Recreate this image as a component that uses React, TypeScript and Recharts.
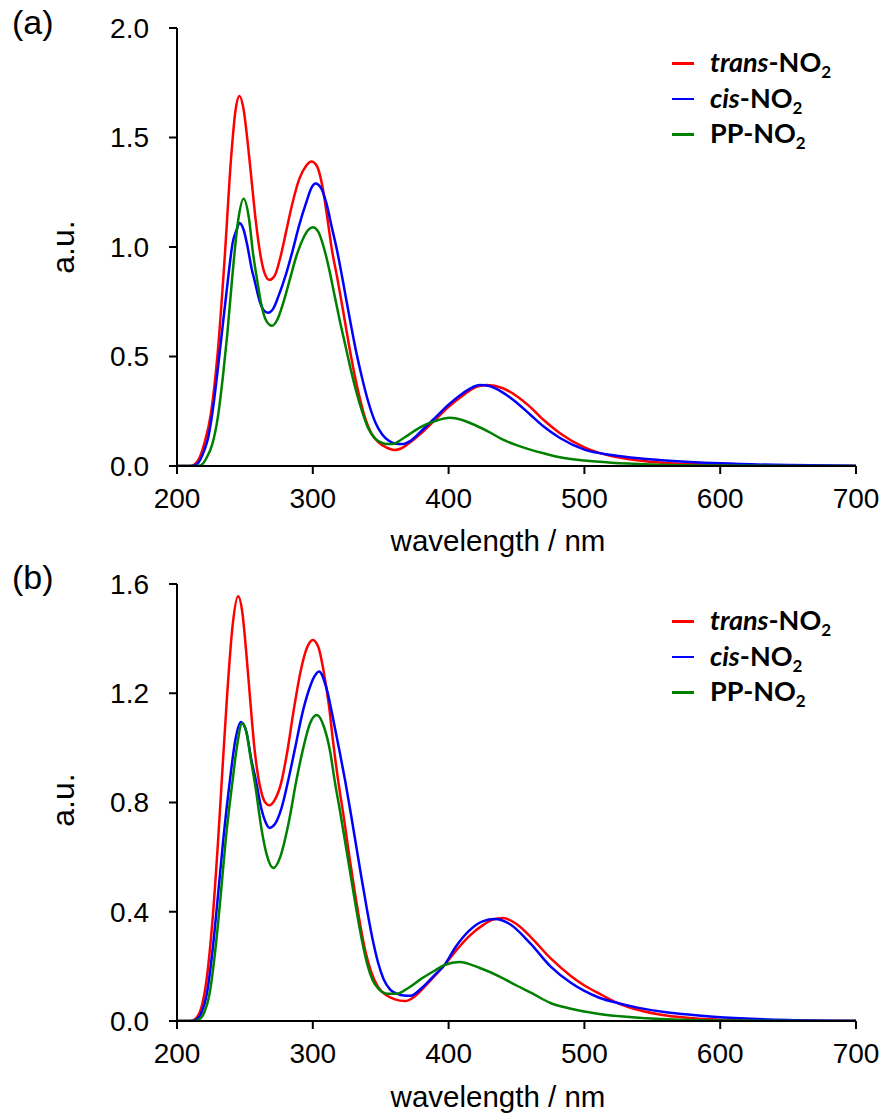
import React from 'react';
import { LineChart, Line, XAxis, YAxis } from 'recharts';

// ---------- data: panel (a) ----------
const transA_x = [200,210,215,220,225,230,235,240,243,246,249,252,255,258,261,264,268,272,276,280,285,290,295,299,303,307,311,314,318,322,327,331,335,339,343,348,354,360,365,370,380,390,400,410,420,428,440,450,460,470,482,500,520,540,560,600,650,700];
const transA_y = [0,0,0.02,0.1,0.24,0.52,0.94,1.42,1.62,1.69,1.63,1.48,1.3,1.12,0.98,0.89,0.85,0.87,0.95,1.06,1.2,1.31,1.37,1.39,1.37,1.28,1.12,0.99,0.86,0.72,0.54,0.41,0.3,0.21,0.15,0.11,0.085,0.073,0.08,0.1,0.15,0.21,0.27,0.32,0.36,0.37,0.355,0.32,0.27,0.21,0.15,0.085,0.045,0.025,0.014,0.005,0.001,0];

const cisA_x = [200,210,215,220,223,226,230,234,237.5,241,244,246,249,252,255,257,261,264,267,271,275,280,285,290,295,299,302,306,310,314,318,322,327,332,336,341,346,351,356,361,366,372,380,390,400,410,423,430,440,450,460,470,482,500,520,540,560,600,650,700];
const cisA_y = [0,0,0.01,0.07,0.13,0.24,0.44,0.66,0.85,1.02,1.08,1.11,1.08,1.0,0.9,0.85,0.75,0.71,0.7,0.72,0.78,0.87,0.98,1.1,1.2,1.27,1.29,1.27,1.2,1.09,0.98,0.85,0.68,0.52,0.41,0.29,0.2,0.145,0.115,0.102,0.1,0.115,0.16,0.22,0.28,0.33,0.37,0.365,0.335,0.29,0.235,0.18,0.128,0.075,0.05,0.035,0.025,0.012,0.004,0.001];

const ppA_x = [200,215,218,222,226,230,234,237,240.5,245,249,253,256,259,262,266,270,274,278,283,288,293,297,300,304,308,312,316,320,324,328,332,336,341,346,351,355,359,365,370,380,390,401,410,420,430,440,450,460,470,482,500,520,550,600,700];
const ppA_y = [0,0,0.005,0.04,0.1,0.22,0.42,0.6,0.85,1.12,1.22,1.13,0.97,0.85,0.74,0.66,0.64,0.67,0.74,0.85,0.96,1.04,1.08,1.09,1.07,1.0,0.9,0.78,0.66,0.55,0.44,0.34,0.255,0.17,0.125,0.105,0.1,0.1,0.12,0.14,0.18,0.205,0.22,0.21,0.185,0.155,0.12,0.095,0.075,0.058,0.04,0.025,0.015,0.007,0.002,0];

// ---------- data: panel (b) ----------
const transB_x = [200,210,214,218,222,226,230,233,237,241,245,248,251,254,257,259,262,265,268,272,276.6,281,286,291,296,300,304,308,312,315,318.6,323,327,331,335,339,343,348,354,360,368,375,385,397,405,415,425,432,440,450,460,475,490,500,511,525,540,560,580,600,650,700];
const transB_y = [0,0,0.01,0.05,0.16,0.36,0.64,0.883,1.2,1.45,1.555,1.5,1.35,1.17,1.0,0.92,0.84,0.8,0.79,0.81,0.87,0.98,1.14,1.28,1.37,1.395,1.37,1.28,1.15,1.02,0.883,0.74,0.6,0.47,0.35,0.25,0.18,0.125,0.095,0.08,0.073,0.09,0.14,0.205,0.255,0.31,0.35,0.37,0.377,0.355,0.31,0.23,0.165,0.13,0.1,0.065,0.04,0.02,0.01,0.005,0.001,0];

const cisB_x = [200,210,214,218,222,226,230,234,239,243,247,251,255,258,262,266,268,272,277,282,287,292,297,301,304.6,310,316,320,323.7,328,332,336,340,344,348,352,357,362,367,372,380,390,397,405,415,425,434,445,460,475,490,500,511,525,540,560,580,600,650,700];
const cisB_y = [0,0,0.005,0.03,0.1,0.25,0.45,0.66,0.883,1.03,1.095,1.06,0.95,0.883,0.78,0.72,0.707,0.72,0.78,0.883,1.0,1.12,1.21,1.26,1.28,1.22,1.08,0.98,0.883,0.76,0.64,0.52,0.405,0.3,0.215,0.155,0.115,0.1,0.093,0.092,0.12,0.17,0.205,0.27,0.33,0.365,0.373,0.355,0.285,0.2,0.14,0.11,0.085,0.065,0.048,0.032,0.022,0.014,0.004,0.001];

const ppB_x = [200,212,216,220,224,228,232,236,241,244,248,251,254,258,262,266,271,276,282,288,293,298,303,308,313,316,320,324,328,332,336,340,344,349,355,362,370,380,390,397,408,423,438,450,462,475,490,500,511,540,570,600,700];
const ppB_y = [0,0,0.005,0.03,0.1,0.25,0.45,0.67,0.883,1.0,1.09,1.06,0.97,0.85,0.71,0.61,0.56,0.6,0.72,0.883,1.0,1.09,1.12,1.08,0.98,0.883,0.77,0.65,0.53,0.41,0.3,0.21,0.15,0.115,0.1,0.1,0.12,0.155,0.185,0.205,0.216,0.194,0.162,0.13,0.1,0.066,0.045,0.035,0.026,0.012,0.005,0.002,0];

// ---------- ticks & labels ----------
const xTicks = [200, 300, 400, 500, 600, 700];
const yTicksA = [0, 0.5, 1.0, 1.5, 2.0];
const yTicksB = [0, 0.4, 0.8, 1.2, 1.6];
const seriesNames = ['trans', 'cis', 'PP'];
const seriesColors = ['#ff0000', '#0000ff', '#008000'];

const zip = (xs: number[], ys: number[]) => xs.map((x, i) => ({ x, y: ys[i] }));

const panelA = [zip(transA_x, transA_y), zip(cisA_x, cisA_y), zip(ppA_x, ppA_y)];
const panelB = [zip(transB_x, transB_y), zip(cisB_x, cisB_y), zip(ppB_x, ppB_y)];

const AX = { stroke: '#000', strokeWidth: 2 };
const ARIAL = '"Liberation Sans", Arial, sans-serif';
const tickFont = { fill: '#000', fontSize: 28, fontFamily: ARIAL };

function Panel({ top, height, bottomMargin, data, yTicks, yMax, letter, letterTop, legendTop, yLabelY, xLabelY }: any) {
  return (
    <div style={{ position: 'absolute', left: 0, top, width: 884, height }}>
      <LineChart width={884} height={height} margin={{ top: 28, right: 28, bottom: bottomMargin, left: 117 }}>
        <XAxis xAxisId="b" dataKey="x" type="number" domain={[200, 700]} ticks={xTicks} allowDataOverflow
          height={60} tickSize={8} tickMargin={14} axisLine={AX} tickLine={AX} tick={tickFont} />
        <XAxis xAxisId="t" orientation="top" dataKey="x" type="number" domain={[200, 700]} height={0}
          tick={false} tickLine={false} axisLine={AX} />
        <YAxis yAxisId="l" type="number" domain={[0, yMax]} ticks={yTicks} allowDataOverflow width={60}
          tickSize={8} tickMargin={20} axisLine={AX} tickLine={AX} tick={tickFont}
          tickFormatter={(v: number) => v.toFixed(1)} />
        <YAxis yAxisId="r" orientation="right" type="number" domain={[0, yMax]} width={0}
          tick={false} tickLine={false} axisLine={AX} />
        {data.map((d: any, i: number) => (
          <Line key={i} data={d} dataKey="y" xAxisId="b" yAxisId="l" type="monotone" stroke={seriesColors[i]}
            strokeWidth={2.5} dot={false} isAnimationActive={false} name={seriesNames[i]} />
        ))}
      </LineChart>
      <div style={{ position: 'absolute', left: 12, top: letterTop, fontSize: 34, fontFamily: ARIAL, lineHeight: 1 }}>{letter}</div>
      <div style={{ position: 'absolute', left: 63, top: yLabelY, transform: 'translate(-50%,-50%) rotate(-90deg)', fontSize: 32, fontFamily: ARIAL, lineHeight: 1, whiteSpace: 'nowrap' }}>a.u.</div>
      <div style={{ position: 'absolute', left: 498, top: xLabelY, transform: 'translate(-50%,-50%)', fontSize: 29.5, fontFamily: ARIAL, lineHeight: 1, whiteSpace: 'nowrap' }}>wavelength / nm</div>
      {seriesNames.map((n, i) => (
        <div key={n} style={{ position: 'absolute', left: 672, top: legendTop + i * 35.5, height: 0 }}>
          <div style={{ position: 'absolute', left: 0, top: -1, width: 22, height: 2.5, background: seriesColors[i] }} />
          <div style={{ position: 'absolute', left: 38, top: 0, transform: 'translateY(-55%)', whiteSpace: 'nowrap', fontFamily: 'Lato, "Open Sans", sans-serif', fontWeight: 700, fontSize: 27, lineHeight: 1 }}>
            {n === 'PP' ? <span>PP</span> : <i>{n}</i>}-NO<sub style={{ fontSize: 17, verticalAlign: 'baseline', position: 'relative', top: 6 }}>2</sub>
          </div>
        </div>
      ))}
    </div>
  );
}

export default function App() {
  return (
    <div style={{ position: 'absolute', left: 0, top: 0, width: 884, height: 1115, background: '#fff' }}>
      <Panel top={0} height={556} bottomMargin={30} data={panelA} yTicks={yTicksA} yMax={2.0} letter="(a)" letterTop={5} legendTop={63} yLabelY={247} xLabelY={541} />
      <Panel top={556} height={559} bottomMargin={34} data={panelB} yTicks={yTicksB} yMax={1.6} letter="(b)" letterTop={4} legendTop={65} yLabelY={244} xLabelY={541} />
    </div>
  );
}
